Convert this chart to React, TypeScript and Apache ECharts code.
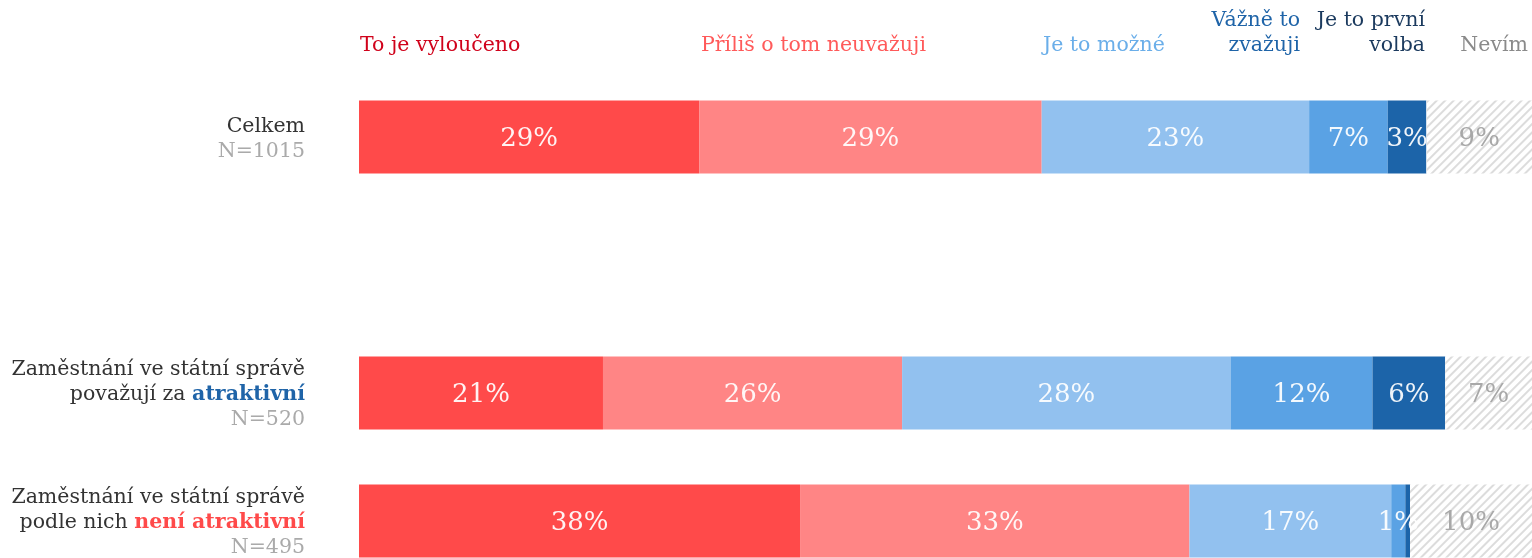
import React, { useEffect, useRef } from "react";
import * as echarts from "echarts";

const seriesNames = [
  "To je vyloučeno",
  "Příliš o tom neuvažuji",
  "Je to možné",
  "Vážně to zvažuji",
  "Je to první volba",
  "Nevím",
];
const legendLabels = [
  "To je vyloučeno",
  "Příliš o tom neuvažuji",
  "Je to možné",
  "Vážně to\nzvažuji",
  "Je to první\nvolba",
  "Nevím",
];
const rowKeys = ["Celkem", "", "atraktivni", "neatraktivni"];
const rowNs = ["N=1015", "", "N=520", "N=495"];

const celkem = [29.0, 29.2, 22.8, 6.7, 3.3, 9.0];
const atraktivni = [20.8, 25.5, 28.0, 12.1, 6.2, 7.4];
const neatraktivni = [37.6, 33.2, 17.2, 1.2, 0.4, 10.4];

const barColors = ["#ff4a4a", "#ff8585", "#92c1ef", "#5aa2e4", "#1c64a9", "#ffffff"];
const legendColors = ["#d0021b", "#ff5a5a", "#6aaee9", "#1f64a8", "#1b3a5e", "#8a8a8a"];

const FONT = '"DejaVu Serif", serif';
const FS = 20.5;

export default function App() {
  const ref = useRef<HTMLDivElement>(null);
  useEffect(() => {
    if (!ref.current) return;
    const chart = echarts.init(ref.current, undefined, { renderer: "svg" });

    const series = seriesNames.map((name, i) => ({
      name,
      type: "bar",
      stack: "total",
      barWidth: 73,
      data: [celkem[i], null, atraktivni[i], neatraktivni[i]],
      itemStyle:
        i === 5
          ? {
              color: "#ffffff",
              decal: {
                symbol: "rect",
                symbolSize: 1,
                dashArrayX: [1, 0],
                dashArrayY: [1.5, 3.5],
                rotation: -Math.PI / 4,
                color: "#dcdcdc",
                backgroundColor: "#ffffff",
              },
            }
          : { color: barColors[i] },
      label: {
        show: true,
        position: "inside",
        fontFamily: FONT,
        fontSize: 26,
        color: i === 5 ? "#a8a8a8" : "rgba(255,255,255,0.93)",
        formatter: (p: any) => (p.value >= 1 ? Math.round(p.value) + "%" : ""),
      },
      emphasis: { disabled: true },
    }));

    const legendPos = [
      { x: 360, y: 44, align: "left" },
      { x: 701, y: 44, align: "left" },
      { x: 1043, y: 44, align: "left" },
      { x: 1300, y: 31.5, align: "right" },
      { x: 1425, y: 31.5, align: "right" },
      { x: 1528, y: 44, align: "right" },
    ];

    chart.setOption({
      animation: false,
      grid: { left: 359, right: 0, top: 73, bottom: 15, containLabel: false },
      xAxis: { type: "value", min: 0, max: 100, show: false },
      yAxis: {
        type: "category",
        inverse: true,
        data: rowKeys,
        axisLine: { show: false },
        axisTick: { show: false },
        axisLabel: {
          margin: 54,
          align: "right",
          formatter: (_v: string, idx: number) => {
            if (idx === 0) return "{t|Celkem}\n{n|" + rowNs[0] + "}";
            if (idx === 2)
              return "{t|Zaměstnání ve státní správě}\n{t|považují za }{b|atraktivní}\n{n|" + rowNs[2] + "}";
            if (idx === 3)
              return "{t|Zaměstnání ve státní správě}\n{t|podle nich }{r|není atraktivní}\n{n|" + rowNs[3] + "}";
            return "";
          },
          rich: {
            t: { color: "#333333", fontSize: FS, lineHeight: 25, fontFamily: FONT, align: "right" },
            b: { color: "#1f64a8", fontSize: FS, lineHeight: 25, fontFamily: FONT, fontWeight: "bold", align: "right" },
            r: { color: "#ff4a4a", fontSize: FS, lineHeight: 25, fontFamily: FONT, fontWeight: "bold", align: "right" },
            n: { color: "#aaaaaa", fontSize: FS, lineHeight: 25, fontFamily: FONT, align: "right" },
          },
        },
      },
      graphic: legendLabels.map((txt, i) => ({
        type: "text",
        x: legendPos[i].x,
        y: legendPos[i].y,
        silent: true,
        style: {
          text: txt,
          fill: legendColors[i],
          fontSize: FS,
          fontFamily: FONT,
          lineHeight: 25,
          align: legendPos[i].align,
          verticalAlign: "middle",
        },
      })),
      series,
    });
    return () => chart.dispose();
  }, []);
  return (
    <div
      ref={ref}
      style={{ position: "fixed", left: 0, top: 0, width: 1532, height: 600 }}
    />
  );
}
